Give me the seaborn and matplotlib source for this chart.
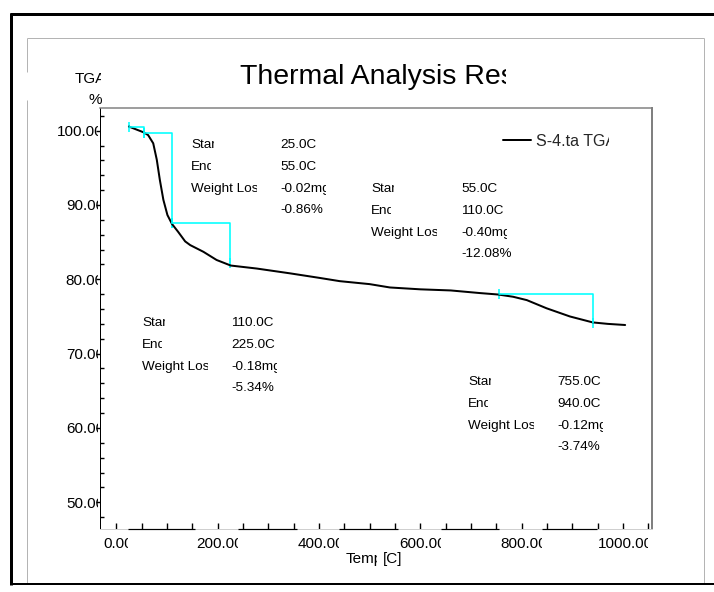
import numpy as np
import pandas as pd
import matplotlib
matplotlib.use("Agg")
import matplotlib.pyplot as plt
import seaborn as sns
from matplotlib.transforms import Bbox
from matplotlib.lines import Line2D

# ---------------- data ----------------
temperature = [25, 40, 55, 63, 73, 80, 86, 93, 101, 110, 122, 136, 146, 172, 198,
               226, 277, 343, 400, 441, 500, 540, 600, 660, 717, 754, 783, 810,
               849, 895, 940, 970, 1004]
weight = [100.55, 100.15, 99.75, 99.4, 98.3, 96.1, 93.4, 90.7, 88.65, 87.45, 86.4,
          85.1, 84.6, 83.7, 82.6, 81.85, 81.45, 80.8, 80.2, 79.75, 79.35, 78.9,
          78.65, 78.5, 78.15, 77.95, 77.65, 77.2, 76.1, 75.0, 74.2, 74.0, 73.85]

step_start_temp = [25.0, 55.0, 110.0, 755.0]
step_end_temp = [55.0, 110.0, 225.0, 940.0]
step_start_weight = [100.55, 99.65, 87.57, 77.98]
step_end_weight = [99.65, 87.57, 82.2, 74.15]
loss_mg = [-0.02, -0.40, -0.18, -0.12]
loss_pct = [-0.86, -12.08, -5.34, -3.74]

x_ticks = [0, 200, 400, 600, 800, 1000]
y_ticks = [50, 60, 70, 80, 90, 100]
title_text = "Thermal Analysis Results"
series_label = "S-4.ta TGA"
x_label, x_unit = "Temp", "[C]"
y_label, y_unit = "TGA", "%"
row_labels = ["Start", "End", "Weight Loss"]

# ---------------- figure ----------------
W, H = 714, 592
sns.set_theme(style="white")
plt.rcParams["font.family"] = ["Liberation Sans", "DejaVu Sans"]
fig = plt.figure(figsize=(W / 100, H / 100), dpi=100)
fig.patch.set_facecolor("white")


def P(x, y):
    return x / W, 1 - y / H


def lw(px):
    return px * 0.72


ax = fig.add_axes([100 / W, 1 - 529 / H, 552 / W, 421 / H])
ax.set_facecolor("white")

sns.lineplot(x=temperature, y=weight, ax=ax, color="black", lw=lw(2.0),
             sort=False, estimator=None, label=series_label, legend=False)

rows = []
for i, (ts, te, ws, we) in enumerate(zip(step_start_temp, step_end_temp,
                                         step_start_weight, step_end_weight)):
    rows += [(i, ts, ws), (i, te, ws), (i, te, we)]
steps = pd.DataFrame(rows, columns=["step", "T", "W"])
sns.lineplot(data=steps, x="T", y="W", units="step", estimator=None, sort=False,
             color="#00FFFF", lw=lw(1.6), ax=ax, legend=False)
sns.scatterplot(x=step_start_temp + step_end_temp,
                y=step_start_weight + step_end_weight,
                marker="|", s=45, color="#00FFFF", linewidth=lw(1.6), ax=ax,
                legend=False)

ax.set_xlim(-32, 1057)
ax.set_ylim(46.4, 103.05)
ax.set_xlabel("")
ax.set_ylabel("")
ax.set_xticks(x_ticks)
ax.set_xticks(np.arange(-0, 1051, 50), minor=True)
ax.set_yticks(y_ticks)
ax.set_yticks(np.arange(48, 103, 2), minor=True)
ax.tick_params(axis="x", which="both", direction="in", length=4, width=1,
               color="black", bottom=True, labelbottom=False)
ax.tick_params(axis="y", which="major", direction="out", length=3, width=1,
               color="black", left=True, labelleft=False)
ax.tick_params(axis="y", which="minor", direction="in", length=3, width=1,
               color="black", left=True)

ax.spines["left"].set_color("black")
ax.spines["left"].set_linewidth(lw(1))
ax.spines["top"].set_color("#808080")
ax.spines["top"].set_linewidth(lw(1.5))
ax.spines["right"].set_color("#808080")
ax.spines["right"].set_linewidth(lw(2))
ax.spines["bottom"].set_color("#cfcfcf")
ax.spines["bottom"].set_linewidth(lw(1))

LS = 11.5
leg = ax.legend(loc="center left", bbox_to_anchor=((503 - 100) / 552, (529 - 141) / 421),
                frameon=False, fontsize=LS, handlelength=1.75, handletextpad=0.32,
                borderpad=0, borderaxespad=0)

fig.canvas.draw()
renderer = fig.canvas.get_renderer()


def clip_right(t, right_px_display):
    bb = t.get_window_extent(renderer)
    t.set_clip_box(Bbox.from_extents(bb.x0 - 5, bb.y0 - 10, right_px_display, bb.y1 + 10))
    t.set_clip_on(True)


def ctext(x, y, s, size, cut_em=None, keep_px=None, ha="left", va="baseline"):
    t = fig.text(*P(x, y), s, fontsize=size, ha=ha, va=va, color="black")
    if cut_em is not None or keep_px is not None:
        bb = t.get_window_extent(renderer)
        if keep_px is not None:
            r = keep_px
        else:
            r = bb.x1 - cut_em * size / 0.72
        clip_right(t, r)
    return t


# legend text clipping
lt = leg.get_texts()[0]
lbb = lt.get_window_extent(renderer)
clip_right(lt, lbb.x1 - 0.45 * LS / 0.72)

# title (clipped)
ctext(240, 84, title_text, 20.5, keep_px=506)

# y label
ctext(75, 83, y_label, 11, keep_px=101)
ctext(95, 104, y_unit, 11, ha="center")

# tick labels
TS = 11
digit = 0.556 * TS / 0.72
to_disp = ax.transData
inv = ax.transData.inverted()
boxes = []
for v in x_ticks:
    xd, _ = to_disp.transform((v, 0))
    s = f"{v:.2f}"
    t = fig.text(0, 0, s, fontsize=TS)
    w = t.get_window_extent(renderer).width
    t.remove()
    left = xd - w / 2 + 2
    ctext(left, 529 + 19, s, TS, cut_em=0.6 * 0.556)
    boxes.append((left - 1, left + w - 0.6 * digit))
# black bottom segments between tick-label boxes
for (a0, a1), (b0, b1) in zip(boxes[:-1], boxes[1:]):
    xa = inv.transform((a1, 0))[0]
    xb = inv.transform((b0, 0))[0]
    ax.hlines(46.4, xa, xb, color="black", lw=lw(1.2), clip_on=False, zorder=3)

for v in y_ticks:
    _, yd = to_disp.transform((0, v))
    ypix = H - yd
    s = f"{v:.2f}"
    t = ctext(104, ypix + 5.5, s, TS, ha="right")
    clip_right(t, 98)

# x label
ctext(346, 563, x_label, TS, cut_em=0.42)
ctext(383, 563, x_unit, TS)

# annotation blocks
AS = 9.7
label_x = [191, 371, 142, 468]
value_x = [280, 461, 231, 557]
row0 = [143, 187, 321, 380]
gap = 22
for k in range(4):
    y0 = row0[k] + 4.8
    ctext(label_x[k], y0, row_labels[0], AS, cut_em=0.4)
    ctext(label_x[k], y0 + gap, row_labels[1], AS, cut_em=0.32)
    ctext(label_x[k], y0 + 2 * gap, row_labels[2], AS, cut_em=0.58)
    ctext(value_x[k], y0, f"{step_start_temp[k]:.1f}C", AS)
    ctext(value_x[k], y0 + gap, f"{step_end_temp[k]:.1f}C", AS)
    ctext(value_x[k], y0 + 2 * gap, f"{loss_mg[k]:.2f}mg", AS, cut_em=0.3)
    ctext(value_x[k], y0 + 3 * gap - 1, f"{loss_pct[k]:.2f}%", AS)

# frames
def fline(xs, ys, color, width):
    fig.add_artist(Line2D([x / W for x in xs], [1 - y / H for y in ys],
                          color=color, lw=lw(width), solid_capstyle="butt"))

fline([27, 27], [38, 72], "#b4b4b4", 1)
fline([27, 27], [100, 584], "#b4b4b4", 1)
fline([27, 704], [38, 38], "#b4b4b4", 1)
fline([704, 704], [38, 584], "#b4b4b4", 1)
fline([11.5, 11.5], [12.5, 585], "black", 3)
fline([10, 714], [14, 14], "black", 3)
fline([10, 714], [583.5, 583.5], "black", 2)

fig.savefig("out.png", dpi=100, facecolor="white")
